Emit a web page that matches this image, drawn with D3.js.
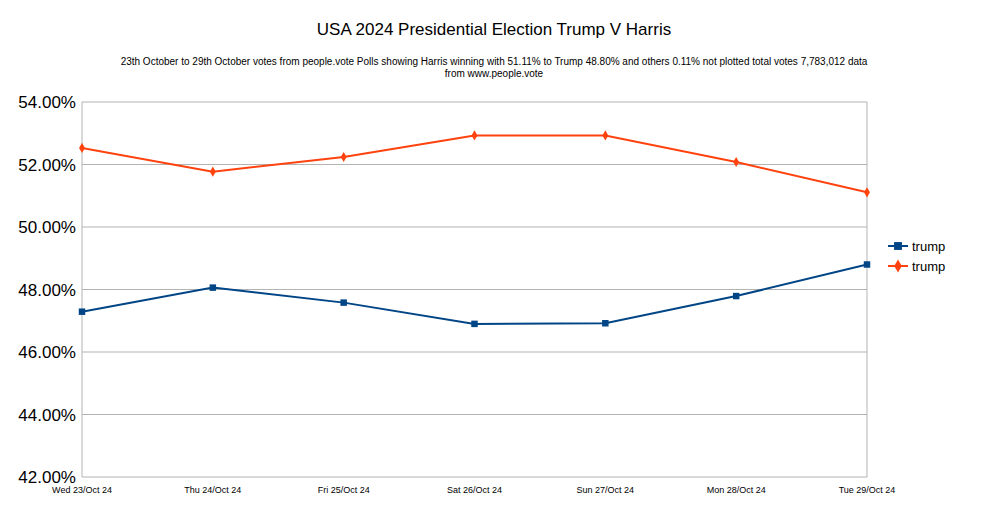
<!DOCTYPE html>
<meta charset="utf-8">
<style>
body { margin: 0; background: #fff; }
text { font-family: "Liberation Sans", Arial, sans-serif; }
</style>
<svg width="989" height="506"></svg>
<script src="https://d3js.org/d3.v7.min.js"></script>
<script>
const days = ["Wed 23/Oct 24", "Thu 24/Oct 24", "Fri 25/Oct 24", "Sat 26/Oct 24", "Sun 27/Oct 24", "Mon 28/Oct 24", "Tue 29/Oct 24"];
const trump = [47.29, 48.06, 47.58, 46.90, 46.92, 47.79, 48.80];
const harris = [52.53, 51.77, 52.24, 52.93, 52.93, 52.08, 51.11];
const yTicks = [42, 44, 46, 48, 50, 52, 54];

const svg = d3.select("svg");
const x = d3.scalePoint().domain(days).range([82, 867]);
const y = d3.scaleLinear().domain([42, 54]).range([477, 102]);

svg.append("text").attr("x", 494).attr("y", 35).attr("text-anchor", "middle")
  .style("font-size", "17px").text("USA 2024 Presidential Election Trump V Harris");
svg.append("text").attr("x", 494).attr("y", 65).attr("text-anchor", "middle")
  .style("font-size", "10px")
  .text("23th October to 29th October votes from people.vote Polls showing Harris winning with 51.11% to Trump 48.80% and others 0.11% not plotted total votes 7,783,012  data");
svg.append("text").attr("x", 494).attr("y", 77).attr("text-anchor", "middle")
  .style("font-size", "10px").text("from www.people.vote");

// grid
svg.append("g").selectAll("line").data(yTicks).join("line")
  .attr("x1", 82).attr("x2", 867).attr("y1", d => y(d)).attr("y2", d => y(d))
  .attr("stroke", "#b3b3b3");
svg.append("line").attr("x1", 82).attr("x2", 82).attr("y1", 102).attr("y2", 477).attr("stroke", "#b3b3b3");
svg.append("line").attr("x1", 867).attr("x2", 867).attr("y1", 102).attr("y2", 477).attr("stroke", "#b3b3b3");

svg.append("g").selectAll("text").data(yTicks).join("text")
  .attr("x", 76).attr("y", d => y(d) + 6).attr("text-anchor", "end")
  .style("font-size", "17px").text(d => d.toFixed(2) + "%");

svg.append("g").selectAll("text").data(days).join("text")
  .attr("x", d => x(d)).attr("y", 493).attr("text-anchor", "middle")
  .style("font-size", "9px").text(d => d);

const line = d3.line().x((d, i) => x(days[i])).y(d => y(d));
const series = [
  {vals: trump, color: "#004586", shape: d3.symbolSquare, size: 42},
  {vals: harris, color: "#ff420e", shape: d3.symbolDiamond, size: 30}
];
series.forEach(s => {
  svg.append("path").attr("d", line(s.vals)).attr("fill", "none")
    .attr("stroke", s.color).attr("stroke-width", 2);
  svg.append("g").selectAll("path").data(s.vals).join("path")
    .attr("transform", (d, i) => `translate(${x(days[i])},${y(d)})`)
    .attr("d", d3.symbol(s.shape, s.size)).attr("fill", s.color);
});

// legend
series.forEach((s, i) => {
  const ly = 246 + i * 20;
  svg.append("line").attr("x1", 888).attr("x2", 908).attr("y1", ly).attr("y2", ly)
    .attr("stroke", s.color).attr("stroke-width", 2);
  svg.append("path").attr("transform", `translate(898,${ly})`)
    .attr("d", d3.symbol(s.shape, s.size + 20)).attr("fill", s.color);
  svg.append("text").attr("x", 912).attr("y", ly + 5).style("font-size", "13px").text("trump");
});
</script>
